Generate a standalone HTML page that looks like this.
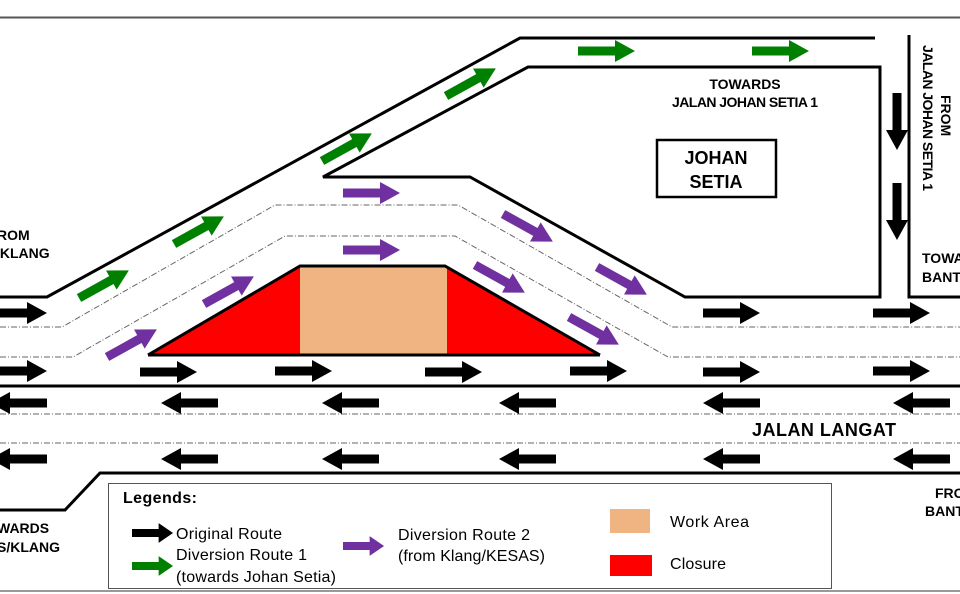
<!DOCTYPE html>
<html><head><meta charset="utf-8"><style>
html,body{margin:0;padding:0;background:#fff;}
svg{display:block;}
text{font-family:"Liberation Sans",sans-serif;}
.b{font-weight:bold;font-size:14px;}
.l{font-size:16px;}
</style></head><body>
<svg width="960" height="594" viewBox="0 0 960 594" xmlns="http://www.w3.org/2000/svg">
<defs>
<polygon id="a" points="0,-4.5 37,-4.5 37,-11 57,0 37,11 37,4.5 0,4.5"/>
</defs>
<rect width="960" height="594" fill="#fff"/>
<line x1="0" y1="17.5" x2="960" y2="17.5" stroke="#555" stroke-width="2"/>
<line x1="0" y1="591" x2="960" y2="591" stroke="#999" stroke-width="2"/>

<polygon points="148,355 300,266 445,266 600,355" fill="#ff0000"/>
<rect x="300" y="266" width="147" height="89" fill="#f0b482"/>
<polyline points="148,355 300,266 445,266 600,355" fill="none" stroke="#000" stroke-width="3"/>

<g fill="none" stroke="#000" stroke-width="3">
<polyline points="0,297 47,297 520,38 875,38"/>
<polygon points="323,177 528,67 880,67 880,297 685,297 470,177"/>
<polyline points="909,35 909,297 960,297"/>
<line x1="148" y1="355" x2="600" y2="355"/>
<line x1="0" y1="386" x2="960" y2="386"/>
<polyline points="0,510 65,510 100,473 960,473"/>
<rect x="657" y="140" width="119" height="57" stroke-width="2.5"/>
</g>
<g fill="none" stroke="#666" stroke-width="1" stroke-dasharray="6,2,1,2">
<polyline points="0,327 62,327 275,205 458,205 672,327 960,327"/>
<polyline points="0,357 73,357 285,236 455,236 668,357 960,357"/>
<line x1="0" y1="414" x2="960" y2="414"/>
<line x1="0" y1="443" x2="960" y2="443"/>
</g>

<g fill="#000">
<use href="#a" transform="translate(-10,313)"/>
<use href="#a" transform="translate(703,313)"/>
<use href="#a" transform="translate(873,313)"/>
<use href="#a" transform="translate(-10,371)"/>
<use href="#a" transform="translate(140,372)"/>
<use href="#a" transform="translate(275,371)"/>
<use href="#a" transform="translate(425,372)"/>
<use href="#a" transform="translate(570,371)"/>
<use href="#a" transform="translate(703,372)"/>
<use href="#a" transform="translate(873,371)"/>
<use href="#a" transform="translate(47,403) rotate(180)"/>
<use href="#a" transform="translate(218,403) rotate(180)"/>
<use href="#a" transform="translate(379,403) rotate(180)"/>
<use href="#a" transform="translate(556,403) rotate(180)"/>
<use href="#a" transform="translate(760,403) rotate(180)"/>
<use href="#a" transform="translate(950,403) rotate(180)"/>
<use href="#a" transform="translate(47,459) rotate(180)"/>
<use href="#a" transform="translate(218,459) rotate(180)"/>
<use href="#a" transform="translate(379,459) rotate(180)"/>
<use href="#a" transform="translate(556,459) rotate(180)"/>
<use href="#a" transform="translate(760,459) rotate(180)"/>
<use href="#a" transform="translate(950,459) rotate(180)"/>
<use href="#a" transform="translate(897,93) rotate(90)"/>
<use href="#a" transform="translate(897,183) rotate(90)"/>
<use href="#a" transform="translate(132,533) scale(0.72,0.9)"/>
</g>
<g fill="#008000">
<use href="#a" transform="translate(79,298) rotate(-29)"/>
<use href="#a" transform="translate(174,244) rotate(-29)"/>
<use href="#a" transform="translate(322,161) rotate(-29)"/>
<use href="#a" transform="translate(446,96) rotate(-29)"/>
<use href="#a" transform="translate(578,51)"/>
<use href="#a" transform="translate(752,51)"/>
<use href="#a" transform="translate(132,566) scale(0.72,0.9)"/>
</g>
<g fill="#7030a0">
<use href="#a" transform="translate(107,357) rotate(-29)"/>
<use href="#a" transform="translate(204,304) rotate(-29)"/>
<use href="#a" transform="translate(343,193)"/>
<use href="#a" transform="translate(343,250)"/>
<use href="#a" transform="translate(503,214) rotate(29)"/>
<use href="#a" transform="translate(597,267) rotate(29)"/>
<use href="#a" transform="translate(475,265) rotate(29)"/>
<use href="#a" transform="translate(569,317) rotate(29)"/>
<use href="#a" transform="translate(343,546) scale(0.72,0.9)"/>
</g>

<text class="b" x="745" y="89" text-anchor="middle">TOWARDS</text>
<text class="b" x="745" y="107" text-anchor="middle" textLength="146">JALAN JOHAN SETIA 1</text>
<text x="716" y="164" text-anchor="middle" font-weight="bold" font-size="18">JOHAN</text>
<text x="716" y="188" text-anchor="middle" font-weight="bold" font-size="18">SETIA</text>
<text class="b" transform="translate(923,45) rotate(90)" textLength="146">JALAN JOHAN SETIA 1</text>
<text class="b" transform="translate(941,95) rotate(90)">FROM</text>
<text class="b" x="922" y="263">TOWA</text>
<text class="b" x="922" y="282">BANT</text>
<text class="b" x="-3" y="240">ROM</text>
<text class="b" x="-4" y="258">/KLANG</text>
<text class="b" x="-3" y="533">WARDS</text>
<text class="b" x="-3" y="552">S/KLANG</text>
<text class="b" x="935" y="498">FRO</text>
<text class="b" x="925" y="516">BANT</text>
<text x="752" y="436" font-weight="bold" font-size="18" textLength="144">JALAN LANGAT</text>

<rect x="108.5" y="483.5" width="723" height="105" fill="none" stroke="#555" stroke-width="1"/>
<text x="123" y="503" font-weight="bold" font-size="16" textLength="74">Legends:</text>
<text class="l" x="176" y="539" textLength="106">Original Route</text>
<text class="l" x="176" y="560" textLength="131">Diversion Route 1</text>
<text class="l" x="176" y="582" textLength="160">(towards Johan Setia)</text>
<text class="l" x="398" y="540" textLength="132">Diversion Route 2</text>
<text class="l" x="398" y="561" textLength="147">(from Klang/KESAS)</text>
<rect x="610" y="509" width="40" height="24" fill="#f0b482"/>
<text class="l" x="670" y="527" textLength="79">Work Area</text>
<rect x="610" y="555" width="42" height="21" fill="#ff0000"/>
<text class="l" x="670" y="569" textLength="56">Closure</text>
</svg>
</body></html>
